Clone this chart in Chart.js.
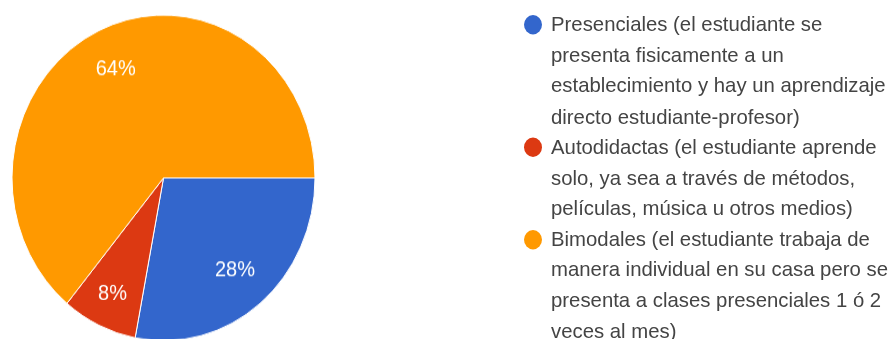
<!DOCTYPE html>
<html>
<head>
<meta charset="utf-8">
<script src="https://cdn.jsdelivr.net/npm/chart.js@4"></script>
<style>
  html { margin: 0; padding: 0; overflow: hidden; background: #fff; }
  body { margin: 0; padding: 0; background: #fff; }
  #stage {
    position: relative; width: 891px; height: 340px;
    transform: scaleY(1.075); transform-origin: 0 0;
    font-family: "Liberation Sans", Arial, sans-serif;
  }
  #pie { position: absolute; left: 0; top: 0; }
  #legend { position: absolute; left: 522px; top: 9px; margin: 0; padding: 0; list-style: none; }
  #legend li { position: relative; padding-left: 29px; font-size: 18px; line-height: 28.5px; color: #444; white-space: nowrap; }
  #legend li .txt { display: inline-block; transform: scaleX(1.13); transform-origin: 0 0; }
  #legend li .dot {
    position: absolute; left: 2px; top: 5.25px; width: 18px; height: 18px; border-radius: 50%;
  }
</style>
</head>
<body>
<div id="stage">
  <canvas id="pie" width="330" height="320" style="width:330px;height:320px"></canvas>
  <ul id="legend"></ul>
</div>
<script>
// Survey answers: learning modality, share of respondents (%)
const categories = [
  ["Presenciales (el estudiante se", "presenta fisicamente a un", "establecimiento y hay un aprendizaje", "directo estudiante-profesor)"],
  ["Autodidactas (el estudiante aprende", "solo, ya sea a través de métodos,", "películas, música u otros medios)"],
  ["Bimodales (el estudiante trabaja de", "manera individual en su casa pero se", "presenta a clases presenciales 1 ó 2", "veces al mes)"]
];
const shares = [28, 8, 64];
const sliceColors = ["#3366cc", "#dc3912", "#ff9900"];

// Percentage text inside each slice, placed along the slice bisector
const sliceLabels = {
  id: "sliceLabels",
  afterDatasetsDraw(chart) {
    const ctx = chart.ctx;
    const ds = chart.data.datasets[0];
    chart.getDatasetMeta(0).data.forEach((arc, i) => {
      const p = arc.getProps(["x", "y", "startAngle", "endAngle", "outerRadius"], true);
      const mid = (p.startAngle + p.endAngle) / 2;
      const r = p.outerRadius * (ds.data[i] < 15 ? 0.79 : 0.74);
      ctx.save();
      ctx.fillStyle = "#ffffff";
      ctx.font = "20px 'Liberation Sans', Arial, sans-serif";
      ctx.textAlign = "center";
      ctx.textBaseline = "middle";
      ctx.fillText(ds.data[i] + "%", p.x + Math.cos(mid) * r, p.y + Math.sin(mid) * r);
      ctx.restore();
    });
  }
};

new Chart(document.getElementById("pie"), {
  type: "pie",
  data: {
    labels: categories,
    datasets: [{
      data: shares,
      backgroundColor: sliceColors,
      borderColor: "#ffffff",
      borderWidth: 1,
      hoverOffset: 0,
      hoverBorderWidth: 0
    }]
  },
  options: {
    responsive: false,
    animation: false,
    events: [],
    rotation: 90,
    layout: { padding: { left: 11.5, top: 13.5, right: 14.5, bottom: 2.5 } },
    plugins: { legend: { display: false }, tooltip: { enabled: false } }
  },
  plugins: [sliceLabels]
});

// Legend built from the same categories and colours
const legend = document.getElementById("legend");
categories.forEach((lines, i) => {
  const li = document.createElement("li");
  const dot = document.createElement("span");
  dot.className = "dot";
  dot.style.background = sliceColors[i];
  li.appendChild(dot);
  const txt = document.createElement("span");
  txt.className = "txt";
  lines.forEach((t, k) => {
    if (k) txt.appendChild(document.createElement("br"));
    txt.appendChild(document.createTextNode(t));
  });
  li.appendChild(txt);
  legend.appendChild(li);
});
</script>
</body>
</html>
